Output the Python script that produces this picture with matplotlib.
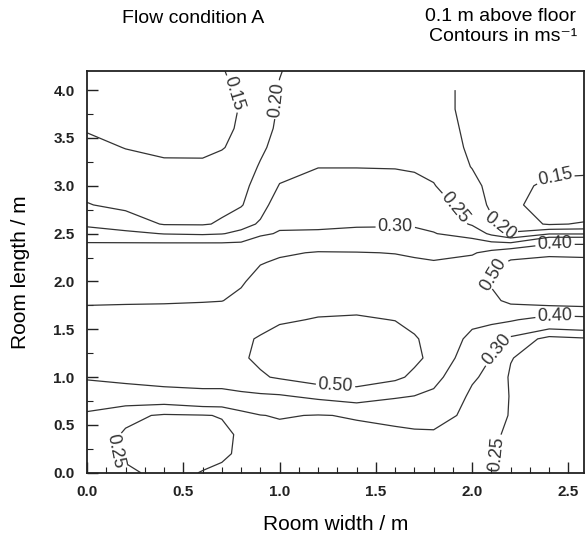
import numpy as np
import matplotlib.pyplot as plt
from matplotlib.ticker import MultipleLocator

plt.rcParams['font.family'] = ['Liberation Sans', 'DejaVu Sans']
plt.rcParams['mathtext.default'] = 'regular'

# measuring stations (m)
room_width = [0.0, 0.2, 0.4, 0.6, 0.7, 0.8, 0.9, 1.0, 1.2, 1.4, 1.6, 1.7, 1.8, 2.0,
              2.1, 2.2, 2.4, 2.6]
room_length = [0.0, 0.2, 0.4, 0.6, 0.8, 1.0, 1.2, 1.4, 1.6, 1.8, 2.0, 2.2, 2.3,
               2.4, 2.5, 2.6, 2.8, 3.0, 3.2, 3.4, 3.6, 3.8, 4.0, 4.2]

# air speed (m/s) 0.1 m above floor, one list per width station, bottom to top
v_w00 = [0.27, 0.275, 0.28, 0.29, 0.34, 0.41, 0.44, 0.45, 0.43, 0.39, 0.36, 0.33,
         0.317, 0.302, 0.27, 0.242, 0.202, 0.187, 0.174, 0.16, 0.147, 0.14, 0.13, 0.125]
v_w02 = [0.26, 0.24, 0.245, 0.26, 0.34, 0.43, 0.45, 0.46, 0.44, 0.39, 0.36, 0.33,
         0.316, 0.302, 0.262, 0.223, 0.19, 0.177, 0.163, 0.149, 0.138, 0.13, 0.125, 0.12]
v_w04 = [0.235, 0.225, 0.23, 0.245, 0.34, 0.46, 0.47, 0.47, 0.45, 0.39, 0.36, 0.33,
         0.316, 0.302, 0.248, 0.197, 0.184, 0.17, 0.156, 0.143, 0.13, 0.12, 0.115, 0.11]
v_w06 = [0.252, 0.235, 0.235, 0.248, 0.36, 0.46, 0.47, 0.47, 0.45, 0.395, 0.36, 0.33,
         0.315, 0.302, 0.244, 0.196, 0.184, 0.171, 0.158, 0.14, 0.132, 0.128, 0.13, 0.135]
v_w07 = [0.256, 0.245, 0.242, 0.252, 0.36, 0.46, 0.48, 0.48, 0.46, 0.398, 0.37, 0.335,
         0.318, 0.302, 0.248, 0.205, 0.19, 0.177, 0.163, 0.148, 0.143, 0.14, 0.143, 0.148]
v_w08 = [0.26, 0.255, 0.255, 0.275, 0.38, 0.46, 0.49, 0.49, 0.47, 0.42, 0.39, 0.35,
         0.325, 0.305, 0.26, 0.235, 0.196, 0.185, 0.172, 0.16, 0.154, 0.152, 0.156, 0.16]
v_w09 = [0.265, 0.262, 0.268, 0.298, 0.385, 0.49, 0.515, 0.505, 0.48, 0.45, 0.43, 0.395,
         0.36, 0.33, 0.29, 0.255, 0.235, 0.22, 0.205, 0.19, 0.18, 0.175, 0.175, 0.178]
v_w10 = [0.27, 0.27, 0.28, 0.305, 0.39, 0.51, 0.54, 0.53, 0.49, 0.47, 0.44, 0.41,
         0.39, 0.35, 0.305, 0.29, 0.27, 0.252, 0.235, 0.22, 0.21, 0.205, 0.203, 0.198]
v_w12 = [0.27, 0.275, 0.285, 0.297, 0.42, 0.55, 0.56, 0.555, 0.505, 0.47, 0.45, 0.42,
         0.405, 0.36, 0.305, 0.293, 0.279, 0.264, 0.249, 0.24, 0.235, 0.23, 0.228, 0.226]
v_w14 = [0.27, 0.275, 0.285, 0.305, 0.45, 0.55, 0.57, 0.56, 0.51, 0.47, 0.45, 0.42,
         0.403, 0.36, 0.31, 0.295, 0.28, 0.264, 0.249, 0.24, 0.235, 0.232, 0.23, 0.23]
v_w16 = [0.27, 0.275, 0.285, 0.32, 0.41, 0.52, 0.545, 0.535, 0.498, 0.47, 0.45, 0.415,
         0.398, 0.36, 0.31, 0.296, 0.28, 0.265, 0.248, 0.24, 0.235, 0.232, 0.23, 0.23]
v_w17 = [0.27, 0.275, 0.29, 0.325, 0.398, 0.48, 0.52, 0.51, 0.47, 0.45, 0.445, 0.41,
         0.39, 0.35, 0.31, 0.295, 0.28, 0.262, 0.245, 0.24, 0.235, 0.23, 0.228, 0.228]
v_w18 = [0.27, 0.275, 0.29, 0.33, 0.38, 0.43, 0.475, 0.465, 0.44, 0.43, 0.44, 0.405,
         0.38, 0.34, 0.302, 0.29, 0.27, 0.252, 0.24, 0.235, 0.23, 0.225, 0.225, np.nan]
v_w20 = [0.265, 0.265, 0.27, 0.28, 0.285, 0.31, 0.34, 0.38, 0.42, 0.45, 0.47, 0.43,
         0.39, 0.32, 0.28, 0.245, 0.23, 0.215, 0.198, 0.19, 0.185, 0.18, 0.18, np.nan]
v_w21 = [0.252, 0.252, 0.255, 0.262, 0.27, 0.28, 0.298, 0.34, 0.42, 0.48, 0.51, 0.47,
         0.43, 0.31, 0.24, 0.21, 0.19, 0.185, 0.18, 0.177, 0.175, 0.175, 0.175, np.nan]
v_w22 = [0.245, 0.245, 0.245, 0.248, 0.248, 0.245, 0.252, 0.285, 0.41, 0.52, 0.54, 0.51,
         0.47, 0.305, 0.205, 0.175, 0.16, 0.162, 0.165, 0.168, 0.17, 0.17, 0.17, np.nan]
v_w24 = [0.22, 0.22, 0.22, 0.22, 0.22, 0.22, 0.225, 0.235, 0.36, 0.55, 0.57, 0.53,
         0.48, 0.39, 0.245, 0.145, 0.13, 0.142, 0.16, 0.165, 0.168, 0.17, 0.17, np.nan]
v_w26 = [0.22, 0.22, 0.22, 0.22, 0.22, 0.22, 0.225, 0.245, 0.37, 0.56, 0.58, 0.53,
         0.47, 0.39, 0.245, 0.155, 0.12, 0.14, 0.158, 0.165, 0.168, 0.17, 0.17, np.nan]

levels = [0.15, 0.20, 0.25, 0.30, 0.40, 0.50]

# where the contour labels sit
label_spots = [(0.74, 3.95), (0.99, 3.9), (1.92, 2.78), (2.15, 2.6), (2.43, 3.09),
               (1.6, 2.52), (2.43, 2.37), (2.1, 2.1), (2.43, 1.64), (2.12, 1.3),
               (1.29, 0.9), (0.1, 0.25), (2.1, 0.2)]

x_ticks = [0.0, 0.5, 1.0, 1.5, 2.0, 2.5]
y_ticks = [0.0, 0.5, 1.0, 1.5, 2.0, 2.5, 3.0, 3.5, 4.0]

columns = [v_w00, v_w02, v_w04, v_w06, v_w07, v_w08, v_w09, v_w10, v_w12, v_w14,
           v_w16, v_w17, v_w18, v_w20, v_w21, v_w22, v_w24, v_w26]
speed = np.ma.masked_invalid(np.array(columns).T)

fig = plt.figure(figsize=(5.88, 5.46), dpi=100)
ax = fig.add_axes([0.148, 0.134, 0.845, 0.736])

cs = ax.contour(room_width, room_length, speed, levels=levels,
                colors='#333333', linewidths=0.9)
ax.clabel(cs, inline=True, fmt='%.2f', fontsize=13, manual=label_spots,
          inline_spacing=2)

ax.set_xlim(0, 2.58)
ax.set_ylim(0, 4.2)
ax.set_xticks(x_ticks, [f'{t:.1f}' for t in x_ticks], fontweight='bold')
ax.set_yticks(y_ticks, [f'{t:.1f}' for t in y_ticks], fontweight='bold')
ax.xaxis.set_minor_locator(MultipleLocator(0.1))
ax.yaxis.set_minor_locator(MultipleLocator(0.25))
ax.tick_params(which='major', direction='in', length=8, width=1,
               labelsize=11, pad=9, colors='#222222')
ax.tick_params(which='minor', direction='in', length=4, width=0.8, colors='#222222')
for s in ax.spines.values():
    s.set_linewidth(1.3)
    s.set_color('#222222')

ax.set_xlabel('Room width / m', fontsize=15)
ax.set_ylabel('Room length / m', fontsize=15)
ax.xaxis.set_label_coords(0.5, -0.105)
ax.yaxis.set_label_coords(-0.115, 0.5)

fig.text(0.328, 0.966, 'Flow condition A', ha='center', va='center', fontsize=14)
fig.text(0.852, 0.970, '0.1 m above floor', ha='center', va='center', fontsize=14)
fig.text(0.855, 0.934, 'Contours in ms⁻¹', ha='center', va='center', fontsize=14)

fig.savefig('out.png', dpi=100)
